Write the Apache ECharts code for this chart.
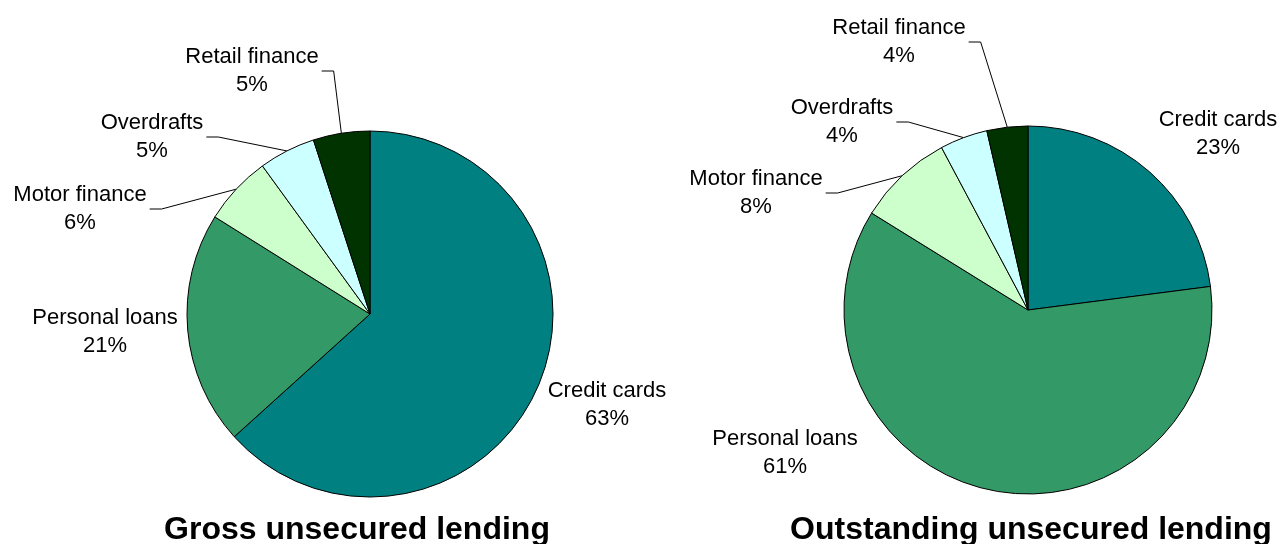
<!DOCTYPE html>
<html>
<head>
<meta charset="utf-8">
<script src="https://cdn.jsdelivr.net/npm/echarts@6/dist/echarts.min.js"></script>
<style>
html, body { margin: 0; padding: 0; background: #fff; }
#pie-chart { width: 1282px; height: 544px; }
</style>
</head>
<body>
<div id="pie-chart"></div>
<script>
// data (shares in %)
var categories = ['Credit cards', 'Personal loans', 'Motor finance', 'Overdrafts', 'Retail finance'];
var grossShares = [63.3, 20.6, 6.1, 5.0, 5.0];
var outstandingShares = [23.0, 61.0, 8.4, 4.2, 3.6];
var pieTitles = ['Gross unsecured lending', 'Outstanding unsecured lending'];

var sliceColors = ['#008080', '#339966', '#CCFFCC', '#CCFFFF', '#003300'];
var hasLeader = [false, false, true, true, true];

// where each pie sits and where its labels go (px)
var pieLayout = [
    { center: [370, 314], radius: 183, titleX: 357,
      labels: [[607, 405], [105, 332], [80, 209], [152, 137], [252, 71]] },
    { center: [1028, 310], radius: 184, titleX: 1031,
      labels: [[1218, 134], [785, 453], [756, 193], [842, 122], [899, 42]] }
];
var allShares = [grossShares, outstandingShares];

var dom = document.getElementById('pie-chart');
var myChart = echarts.init(dom, null, { renderer: 'canvas' });

// point on the pie edge at the middle of slice i
function edgePoint(s, i) {
    var vals = allShares[s];
    var total = vals.reduce(function (a, b) { return a + b; }, 0);
    var before = 0;
    for (var k = 0; k < i; k++) before += vals[k];
    var ang = (before + vals[i] / 2) / total * 2 * Math.PI;
    var p = pieLayout[s];
    return [p.center[0] + p.radius * Math.sin(ang), p.center[1] - p.radius * Math.cos(ang)];
}

function makeSeries(s) {
    var p = pieLayout[s];
    return {
        type: 'pie',
        center: p.center,
        radius: p.radius,
        startAngle: 90,
        clockwise: true,
        avoidLabelOverlap: false,
        silent: true,
        emphasis: { disabled: true },
        itemStyle: { borderColor: '#000', borderWidth: 1 },
        label: {
            show: true,
            position: 'outside',
            formatter: function (d) { return d.name + '\n' + Math.round(d.value) + '%'; },
            fontFamily: 'Liberation Sans, Arial, sans-serif',
            fontSize: 22,
            lineHeight: 28,
            color: '#000',
            align: 'center'
        },
        labelLine: { show: true, lineStyle: { color: '#000', width: 1 } },
        labelLayout: function (params) {
            var i = params.dataIndex;
            var pos = p.labels[i];
            var out = { x: pos[0], y: pos[1], align: 'center', verticalAlign: 'middle' };
            if (hasLeader[i]) {
                var x0 = pos[0] + params.labelRect.width / 2 + 3;
                out.labelLinePoints = [edgePoint(s, i), [x0 + 12, pos[1]], [x0, pos[1]]];
            }
            return out;
        },
        data: categories.map(function (name, i) {
            return {
                name: name,
                value: allShares[s][i],
                itemStyle: { color: sliceColors[i] },
                labelLine: { show: hasLeader[i] }
            };
        })
    };
}

var option = {
    animation: false,
    graphic: pieTitles.map(function (t, s) {
        return {
            type: 'text',
            x: pieLayout[s].titleX,
            y: 530,
            style: {
                text: t,
                fontFamily: 'Liberation Sans, Arial, sans-serif',
                fontWeight: 'bold',
                fontSize: 32,
                fill: '#000',
                textAlign: 'center',
                textVerticalAlign: 'middle'
            }
        };
    }),
    series: [makeSeries(0), makeSeries(1)]
};

myChart.setOption(option);
window.addEventListener('resize', myChart.resize);
</script>
</body>
</html>
